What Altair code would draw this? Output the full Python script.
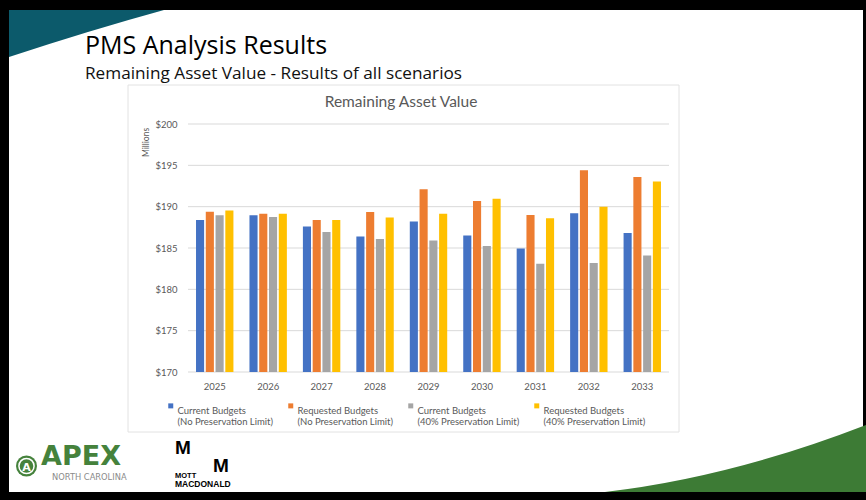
import altair as alt
import pandas as pd

# ---------------- data ----------------
years = ["2025", "2026", "2027", "2028", "2029", "2030", "2031", "2032", "2033"]
series = [
    "Current Budgets\n(No Preservation Limit)",
    "Requested Budgets\n(No Preservation Limit)",
    "Current Budgets\n(40% Preservation Limit)",
    "Requested Budgets\n(40% Preservation Limit)",
]
colors = ["#4472C4", "#ED7D31", "#A5A5A5", "#FFC000"]

current_no_limit = [188.4, 188.95, 187.6, 186.4, 188.2, 186.5, 184.95, 189.2, 186.8]
requested_no_limit = [189.4, 189.15, 188.4, 189.35, 192.1, 190.7, 189.0, 194.4, 193.6]
current_40_limit = [188.95, 188.75, 186.95, 186.1, 185.9, 185.25, 183.1, 183.2, 184.1]
requested_40_limit = [189.55, 189.15, 188.4, 188.7, 189.15, 190.95, 188.6, 190.0, 193.05]

y_ticks = [170, 175, 180, 185, 190, 195, 200]

slide_title = "PMS Analysis Results"
slide_subtitle = "Remaining Asset Value - Results of all scenarios"
chart_title = "Remaining Asset Value"
y_title = "Millions"

rows = []
for s, vals in zip(series, [current_no_limit, requested_no_limit, current_40_limit, requested_40_limit]):
    for yr, v in zip(years, vals):
        rows.append({"year": yr, "series": s, "value": v})
df = pd.DataFrame(rows)
df_ticks = pd.DataFrame({"v": y_ticks})

# ---------------- layout ----------------
W, H = 481, 248
LEFT, TOP = 188, 124
CW, CH = 866, 500
TEAL = "#0c5a6b"
GREEN = "#3d7b35"
GRAY_TXT = "#595959"
CHART_FONT = "Lato"


def px(v):
    return alt.value(v - LEFT)


def py(v):
    return alt.value(v - TOP)


one = pd.DataFrame({"k": [0]})

yscale = alt.Scale(domain=[170, 200], nice=False, zero=False, clamp=True)

slide = alt.Chart(one).mark_rect(color="white").encode(
    x=px(9), x2=px(863), y=py(10), y2=py(492)
)

teal_shape = "M0,0 L1.55,0 Q0.82,0.2 0,0.47 Z"
teal = alt.Chart(one).mark_point(
    shape=teal_shape, size=40000, filled=True, fill=TEAL, opacity=1, strokeWidth=0
).encode(x=px(9), y=py(10))

green_shape = "M-2.61,0 Q-1.355,-0.145 0,-0.67 L0,0 Z"
green = alt.Chart(one).mark_point(
    shape=green_shape, size=40000, filled=True, fill=GREEN, opacity=1, strokeWidth=0
).encode(x=px(866), y=py(492))

panel = alt.Chart(one).mark_rect(fill="white", stroke="#e2e2e2", strokeWidth=1).encode(
    x=px(128), x2=px(679), y=py(85), y2=py(432)
)

grid = alt.Chart(df_ticks).mark_rule(color="#d9d9d9", strokeWidth=1).encode(
    y=alt.Y("v:Q", scale=yscale), x=alt.value(0), x2=alt.value(W)
)

bars = alt.Chart(df).mark_bar().encode(
    x=alt.X(
        "year:N",
        sort=years,
        scale=alt.Scale(paddingInner=0.3, paddingOuter=0.15),
        axis=alt.Axis(
            title=None, labelAngle=0, ticks=False, domain=False, grid=False,
            labelFont=CHART_FONT, labelFontSize=9.5, labelColor=GRAY_TXT,
            labelPadding=9, zindex=1,
        ),
    ),
    xOffset=alt.XOffset("series:N", sort=series, scale=alt.Scale(paddingInner=0.17)),
    y=alt.Y(
        "value:Q",
        scale=yscale,
        axis=alt.Axis(
            values=y_ticks, format="$,.0f", ticks=False, domain=False, grid=False,
            labelFont=CHART_FONT, labelFontSize=9.5, labelColor=GRAY_TXT,
            labelPadding=11, zindex=1,
            title=y_title, titleX=-43, titleY=18, titleAngle=270,
            titleAlign="center", titleBaseline="middle",
            titleFont=CHART_FONT, titleFontSize=8.5, titleFontWeight="normal",
            titleColor=GRAY_TXT,
        ),
    ),
    y2=alt.datum(170),
    color=alt.Color(
        "series:N",
        scale=alt.Scale(domain=series, range=colors),
        legend=alt.Legend(
            title=None, orient="none", legendX=-22, legendY=277,
            direction="horizontal", columns=4, columnPadding=12,
            symbolType="square", symbolSize=25, symbolStrokeWidth=0,
            labelFont=CHART_FONT, labelFontSize=9.5, labelColor=GRAY_TXT,
            labelOffset=2, labelLimit=0, labelBaseline="top",
            labelExpr="split(datum.label, '\\n')", padding=0, zindex=1,
        ),
    ),
)


def text_layer(txt, x, y, font, size, color, weight="normal", align="left"):
    return alt.Chart(pd.DataFrame({"t": [txt]})).mark_text(
        font=font, fontSize=size, color=color, fontWeight=weight,
        align=align, baseline="alphabetic",
    ).encode(text="t:N", x=px(x), y=py(y))


t_title = text_layer(slide_title, 85, 54, "Open Sans", 25, "#000000")
t_sub = text_layer(slide_subtitle, 85, 79, "Open Sans", 17.2, "#111111")
t_chart = text_layer(chart_title, 401, 107, CHART_FONT, 15.5, GRAY_TXT, align="center")

# logos as text
apex_circle = alt.Chart(one).mark_point(
    shape="circle", size=441, filled=True, fill="#45823c", opacity=1, strokeWidth=0
).encode(x=px(26.5), y=py(466))
apex_ring = alt.Chart(one).mark_point(
    shape="circle", size=230, filled=False, stroke="white", strokeWidth=1.5, opacity=1
).encode(x=px(26.5), y=py(466))
apex_a = text_layer("A", 26.5, 470.5, "DejaVu Sans", 11, "white", "bold", "center")
apex = text_layer("APEX", 41, 465, "DejaVu Sans", 27, "#45823c", "bold")
apex_nc = text_layer("NORTH CAROLINA", 52, 480, "DejaVu Sans", 8.3, "#8a8a8a")
mm1 = text_layer("M", 175, 454, "Liberation Sans", 19, "#000000", "bold")
mm2 = text_layer("M", 213, 472, "Liberation Sans", 19, "#000000", "bold")
mott = text_layer("MOTT", 175, 477.5, "Liberation Sans", 7.5, "#000000", "bold")
macd = text_layer("MACDONALD", 175, 487, "Liberation Sans", 8.5, "#000000", "bold")

chart = alt.layer(
    slide, teal, green, panel, grid, bars,
    t_title, t_sub, t_chart,
    apex_circle, apex_ring, apex_a, apex, apex_nc, mm1, mm2, mott, macd,
).properties(
    width=W,
    height=H,
    padding={"left": LEFT, "top": TOP, "right": CW - LEFT - W, "bottom": CH - TOP - H},
    autosize=alt.AutoSizeParams(type="none"),
    background="black",
).configure_view(strokeWidth=0)

chart.save("out.html", embed_options={"renderer": "svg", "actions": False})
